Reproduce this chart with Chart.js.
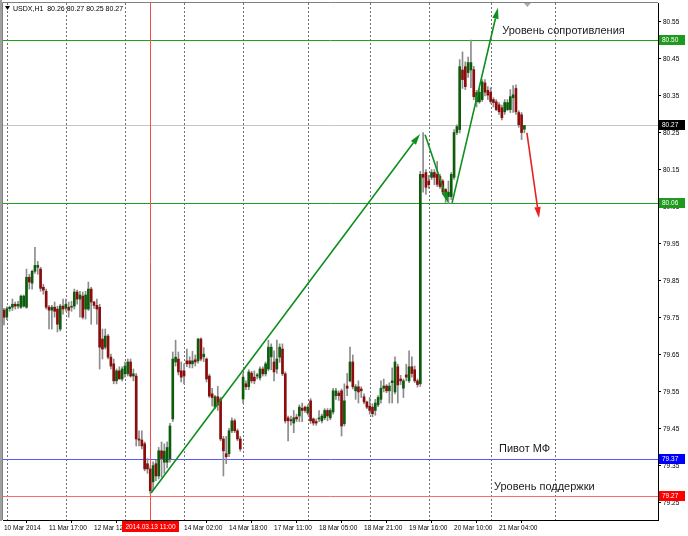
<!DOCTYPE html>
<html>
<head>
<meta charset="utf-8">
<title>USDX,H1</title>
<script src="https://cdn.jsdelivr.net/npm/chart.js@4.4.1/dist/chart.umd.min.js"></script>
<style>
  html, body { margin: 0; padding: 0; background: #fff; }
  canvas { display: block; }
</style>
</head>
<body>
<canvas id="chart" width="688" height="536"></canvas>
<script>
// USDX H1, 10 Mar - 21 Mar 2014, one entry per hourly bar
var symbolName = 'USDX,H1';

var opens = [
  79.771,79.752,79.775,79.779,79.787,79.782,79.779,79.782,79.779,79.860,
  79.844,79.876,79.887,79.882,79.833,79.822,79.779,79.771,79.779,79.774,
  79.720,79.782,79.776,79.779,79.779,79.782,79.820,79.801,79.809,79.774,
  79.774,79.828,79.793,79.784,79.779,79.693,79.671,79.701,79.644,79.626,
  79.580,79.607,79.585,79.599,79.599,79.631,79.593,79.593,79.423,79.420,
  79.410,79.356,79.342,79.307,79.356,79.323,79.391,79.360,79.360,79.369,
  79.477,79.631,79.639,79.607,79.607,79.634,79.634,79.626,79.637,79.634,
  79.693,79.645,79.639,79.593,79.545,79.509,79.537,79.531,79.423,79.383,
  79.383,79.445,79.472,79.445,79.423,79.531,79.572,79.564,79.601,79.590,
  79.593,79.588,79.612,79.599,79.612,79.645,79.631,79.612,79.644,79.666,
  79.599,79.480,79.475,79.466,79.482,79.485,79.506,79.509,79.493,79.526,
  79.477,79.470,79.477,79.472,79.480,79.500,79.480,79.496,79.540,79.547,
  79.553,79.464,79.566,79.580,79.631,79.553,79.564,79.558,79.537,79.523,
  79.512,79.509,79.500,79.515,79.530,79.560,79.566,79.553,79.575,79.550,
  79.618,79.585,79.560,79.596,79.580,79.618,79.610,79.580,79.572,80.138,
  80.143,80.120,80.130,80.143,80.138,80.132,80.120,80.097,80.078,80.078,
  80.130,80.251,80.259,80.420,80.429,80.413,80.420,80.421,80.334,80.334,
  80.340,80.385,80.365,80.360,80.340,80.334,80.326,80.318,80.307,80.313,
  80.313,80.345,80.370,80.305,80.299,80.260
];
var highs = [
  79.776,79.780,79.782,79.801,79.793,79.795,79.812,79.812,79.882,79.868,
  79.879,79.941,79.903,79.887,79.841,79.828,79.784,79.784,79.793,79.782,
  79.787,79.801,79.801,79.793,79.795,79.828,79.825,79.822,79.820,79.822,
  79.847,79.833,79.795,79.801,79.787,79.720,79.720,79.706,79.652,79.639,
  79.612,79.618,79.618,79.631,79.639,79.639,79.612,79.600,79.445,79.445,
  79.415,79.370,79.350,79.361,79.366,79.400,79.415,79.410,79.415,79.465,
  79.658,79.690,79.658,79.631,79.626,79.666,79.645,79.660,79.650,79.695,
  79.696,79.670,79.642,79.598,79.560,79.541,79.565,79.536,79.430,79.430,
  79.452,79.480,79.477,79.450,79.430,79.600,79.580,79.610,79.606,79.607,
  79.600,79.618,79.618,79.631,79.690,79.680,79.661,79.690,79.680,79.680,
  79.604,79.485,79.485,79.500,79.490,79.515,79.520,79.512,79.515,79.532,
  79.480,79.477,79.500,79.490,79.505,79.505,79.505,79.560,79.560,79.553,
  79.558,79.572,79.600,79.671,79.650,79.570,79.580,79.564,79.545,79.525,
  79.535,79.518,79.530,79.540,79.580,79.585,79.570,79.575,79.615,79.645,
  79.625,79.595,79.585,79.625,79.661,79.645,79.620,79.585,80.146,80.251,
  80.151,80.135,80.151,80.151,80.173,80.138,80.124,80.100,80.120,80.143,
  80.259,80.272,80.448,80.469,80.442,80.455,80.501,80.430,80.365,80.370,
  80.394,80.394,80.375,80.372,80.345,80.340,80.332,80.325,80.340,80.340,
  80.367,80.378,80.380,80.310,80.305,80.270
];
var lows = [
  79.731,79.745,79.768,79.770,79.774,79.776,79.776,79.779,79.776,79.828,
  79.828,79.870,79.868,79.822,79.814,79.774,79.720,79.720,79.752,79.712,
  79.715,79.760,79.768,79.752,79.768,79.774,79.787,79.752,79.747,79.747,
  79.770,79.733,79.776,79.733,79.612,79.639,79.666,79.639,79.612,79.572,
  79.572,79.585,79.580,79.590,79.593,79.590,79.580,79.404,79.404,79.396,
  79.337,79.330,79.275,79.285,79.310,79.315,79.320,79.330,79.345,79.360,
  79.470,79.620,79.596,79.577,79.572,79.618,79.615,79.615,79.620,79.628,
  79.634,79.632,79.577,79.535,79.512,79.505,79.500,79.418,79.323,79.356,
  79.375,79.440,79.440,79.418,79.390,79.520,79.556,79.556,79.574,79.572,
  79.585,79.582,79.593,79.593,79.607,79.610,79.580,79.600,79.630,79.594,
  79.466,79.418,79.460,79.440,79.470,79.470,79.470,79.495,79.488,79.465,
  79.460,79.460,79.470,79.466,79.475,79.472,79.475,79.490,79.530,79.527,
  79.431,79.458,79.540,79.577,79.558,79.530,79.520,79.535,79.518,79.505,
  79.490,79.483,79.487,79.510,79.520,79.550,79.548,79.520,79.520,79.545,
  79.520,79.570,79.535,79.580,79.575,79.590,79.575,79.563,79.565,80.090,
  80.084,80.100,80.124,80.110,80.105,80.100,80.085,80.062,80.060,80.070,
  80.124,80.245,80.250,80.370,80.367,80.400,80.372,80.340,80.320,80.330,
  80.335,80.350,80.340,80.330,80.320,80.310,80.300,80.285,80.300,80.310,
  80.305,80.305,80.300,80.265,80.232,80.250
];
var closes = [
  79.752,79.775,79.779,79.787,79.782,79.787,79.809,79.809,79.860,79.847,
  79.876,79.892,79.892,79.830,79.825,79.779,79.771,79.779,79.768,79.733,
  79.782,79.774,79.787,79.771,79.779,79.820,79.801,79.812,79.752,79.812,
  79.828,79.793,79.784,79.774,79.671,79.666,79.701,79.644,79.620,79.580,
  79.607,79.585,79.612,79.620,79.631,79.593,79.599,79.423,79.420,79.404,
  79.342,79.342,79.283,79.351,79.323,79.391,79.370,79.390,79.400,79.458,
  79.639,79.644,79.604,79.590,79.593,79.626,79.626,79.634,79.631,79.693,
  79.639,79.652,79.585,79.539,79.535,79.537,79.515,79.423,79.391,79.375,
  79.445,79.472,79.445,79.423,79.396,79.590,79.564,79.604,79.580,79.580,
  79.596,79.612,79.599,79.626,79.671,79.671,79.604,79.639,79.671,79.599,
  79.472,79.472,79.472,79.480,79.477,79.509,79.500,79.500,79.509,79.472,
  79.466,79.466,79.480,79.485,79.500,79.485,79.500,79.553,79.553,79.540,
  79.458,79.526,79.560,79.631,79.564,79.564,79.550,79.553,79.523,79.509,
  79.500,79.491,79.520,79.535,79.560,79.566,79.553,79.566,79.580,79.631,
  79.569,79.580,79.580,79.590,79.618,79.600,79.580,79.570,80.138,80.130,
  80.103,80.110,80.143,80.130,80.111,80.105,80.090,80.078,80.090,80.138,
  80.251,80.267,80.429,80.394,80.375,80.440,80.440,80.348,80.359,80.360,
  80.388,80.360,80.352,80.335,80.332,80.313,80.307,80.291,80.332,80.332,
  80.348,80.353,80.307,80.272,80.251,80.270
];

// time axis: bar index of each label, and label text
var xTickIdx = [0, 16, 32, 48, 64, 80, 96, 112, 128, 144, 160, 176];
var xTickText = ['10 Mar 2014', '11 Mar 17:00', '12 Mar 12:00', '13 Mar 07:00', '14 Mar 02:00', '14 Mar 18:00',
                 '17 Mar 11:00', '18 Mar 05:00', '18 Mar 21:00', '19 Mar 16:00', '20 Mar 10:00', '21 Mar 04:00'];
var daySeparators = [1, 22, 43, 64, 85, 108, 130, 151, 173, 196];
var barSlots = 232.5;

var yTicks = [79.25, 79.35, 79.45, 79.55, 79.65, 79.75, 79.85, 79.95, 80.05, 80.15, 80.25, 80.35, 80.45, 80.55];
var priceMin = 79.204, priceMax = 80.601;

// crosshair bar 2014.03.13 11:00
var markedBar = 52;
var markedTime = '2014.03.13 11:00';

// levels
var resistanceLevels = [80.50, 80.06];
var pivotLevel = 79.37;
var supportLevel = 79.27;

// arrows as [fromBar, fromPrice, toBar, toPrice]
var trendArrows = [
  [52.3, 79.277, 147.9, 80.247],
  [149.7, 80.245, 157.9, 80.061],
  [159.3, 80.061, 175.6, 80.588]
];
var forecastArrow = [185.9, 80.250, 190.2, 80.020];

var notes = [
  ['Уровень сопротивления', 177.1, 80.526],
  ['Пивот МФ', 176.0, 79.396],
  ['Уровень поддержки', 174.2, 79.293]
];

var FONT = '"Liberation Sans", Arial, sans-serif';
var UP = '#0c5c0c', DOWN = '#8c0c0c', WICK = '#8c8c8c';
var GREEN_LINE = '#1fa01f', GREEN_BOX = '#1f9a1f', ARROW_GREEN = '#0f8f1f';

function last() { return opens.length - 1; }

function drawArrow(ctx, x1, y1, x2, y2, color) {
  var ang = Math.atan2(y2 - y1, x2 - x1);
  var len = 11, half = 3.2;
  var bx = x2 - Math.cos(ang) * len, by = y2 - Math.sin(ang) * len;
  ctx.strokeStyle = color;
  ctx.fillStyle = color;
  ctx.lineWidth = 1.6;
  ctx.beginPath();
  ctx.moveTo(x1, y1);
  ctx.lineTo(bx, by);
  ctx.stroke();
  ctx.beginPath();
  ctx.moveTo(x2, y2);
  ctx.lineTo(bx + Math.sin(ang) * half, by - Math.cos(ang) * half);
  ctx.lineTo(bx - Math.sin(ang) * half, by + Math.cos(ang) * half);
  ctx.closePath();
  ctx.fill();
}

function priceBox(ctx, yPix, text, bg) {
  var top = Math.round(yPix) - 5;
  ctx.fillStyle = bg;
  ctx.fillRect(659, top, 26, 10);
  ctx.fillStyle = '#fff';
  ctx.font = '6.5px ' + FONT;
  ctx.textAlign = 'left';
  ctx.textBaseline = 'middle';
  ctx.fillText(text, 662, top + 5.5);
}

var overlay = {
  id: 'overlay',
  beforeDatasetsDraw: function(chart) {
    var ctx = chart.ctx, a = chart.chartArea, xs = chart.scales.x, ys = chart.scales.y;
    function hline(v, color) {
      var py = Math.round(ys.getPixelForValue(v)) + 0.5;
      ctx.strokeStyle = color;
      ctx.beginPath(); ctx.moveTo(a.left, py); ctx.lineTo(a.right, py); ctx.stroke();
    }
    ctx.save();
    ctx.beginPath(); ctx.rect(a.left, a.top, a.right - a.left, a.bottom - a.top); ctx.clip();
    ctx.lineWidth = 1;

    // period separators
    ctx.strokeStyle = '#707070';
    ctx.setLineDash([2, 2]);
    daySeparators.forEach(function(i) {
      var px = Math.round(xs.getPixelForValue(i)) + 0.5;
      ctx.beginPath(); ctx.moveTo(px, a.top); ctx.lineTo(px, a.bottom); ctx.stroke();
    });
    ctx.setLineDash([]);

    hline(closes[last()], '#c4c4c4');
    resistanceLevels.forEach(function(v) { hline(v, GREEN_LINE); });
    hline(pivotLevel, '#5a5aff');
    hline(supportLevel, '#ff6a6a');

    var mx = Math.round(xs.getPixelForValue(markedBar)) + 0.5;
    ctx.strokeStyle = '#ff4a4a';
    ctx.beginPath(); ctx.moveTo(mx, a.top); ctx.lineTo(mx, a.bottom); ctx.stroke();
    ctx.restore();
  },
  afterDatasetsDraw: function(chart) {
    var ctx = chart.ctx, a = chart.chartArea, xs = chart.scales.x, ys = chart.scales.y;
    ctx.save();
    ctx.beginPath(); ctx.rect(a.left, a.top, a.right - a.left, a.bottom - a.top); ctx.clip();

    trendArrows.forEach(function(t) {
      drawArrow(ctx, xs.getPixelForValue(t[0]), ys.getPixelForValue(t[1]),
                xs.getPixelForValue(t[2]), ys.getPixelForValue(t[3]), ARROW_GREEN);
    });
    var f = forecastArrow;
    drawArrow(ctx, xs.getPixelForValue(f[0]), ys.getPixelForValue(f[1]),
              xs.getPixelForValue(f[2]), ys.getPixelForValue(f[3]), '#e82222');

    ctx.fillStyle = '#1a1a1a';
    ctx.font = '11px ' + FONT;
    ctx.textAlign = 'left';
    ctx.textBaseline = 'middle';
    notes.forEach(function(n) {
      ctx.fillText(n[0], xs.getPixelForValue(n[1]), ys.getPixelForValue(n[2]));
    });

    // symbol header
    var i = last();
    ctx.fillStyle = '#000';
    ctx.beginPath(); ctx.moveTo(5, 6); ctx.lineTo(10, 6); ctx.lineTo(7.5, 10); ctx.closePath(); ctx.fill();
    ctx.font = '7px ' + FONT;
    ctx.fillText(symbolName + '  ' + [opens[i], highs[i], lows[i], closes[i]].map(function(v) { return v.toFixed(2); }).join(' '), 13, 9);

    // chart shift marker
    var sx = xs.getPixelForValue(i) + 3;
    ctx.fillStyle = '#a8a8a8';
    ctx.beginPath(); ctx.moveTo(sx - 3.5, a.top); ctx.lineTo(sx + 3.5, a.top); ctx.lineTo(sx, a.top + 4); ctx.closePath(); ctx.fill();
    ctx.restore();
  },
  afterDraw: function(chart) {
    var ctx = chart.ctx, a = chart.chartArea, xs = chart.scales.x, ys = chart.scales.y;
    ctx.save();
    // window frame and plot border
    ctx.fillStyle = '#a0a0a0';
    ctx.fillRect(0, 0, 2, a.bottom + 1);
    ctx.strokeStyle = '#808080';
    ctx.lineWidth = 1;
    ctx.beginPath();
    ctx.moveTo(2.5, a.bottom); ctx.lineTo(2.5, a.top - 0.5); ctx.lineTo(a.right, a.top - 0.5);
    ctx.stroke();

    priceBox(ctx, ys.getPixelForValue(resistanceLevels[0]), resistanceLevels[0].toFixed(2), GREEN_BOX);
    priceBox(ctx, ys.getPixelForValue(closes[last()]), closes[last()].toFixed(2), '#000');
    priceBox(ctx, ys.getPixelForValue(resistanceLevels[1]), resistanceLevels[1].toFixed(2), GREEN_BOX);
    priceBox(ctx, ys.getPixelForValue(pivotLevel), pivotLevel.toFixed(2), '#0000ff');
    priceBox(ctx, ys.getPixelForValue(supportLevel), supportLevel.toFixed(2), '#ff0000');

    // time box of the crosshair bar
    var mx = Math.round(xs.getPixelForValue(markedBar));
    ctx.fillStyle = '#ff0000';
    ctx.fillRect(mx - 28, a.bottom + 1, 57, 11);
    ctx.fillStyle = '#fff';
    ctx.font = '6.5px ' + FONT;
    ctx.textAlign = 'center';
    ctx.textBaseline = 'middle';
    ctx.fillText(markedTime, mx + 0.5, a.bottom + 7);
    ctx.restore();
  }
};

var wickData = highs.map(function(h, i) { return { x: i, y: [lows[i], h] }; });
var bodyData = opens.map(function(o, i) { return { x: i, y: [o, closes[i]] }; });

function bodyColor(ctx) {
  var i = ctx.dataIndex;
  return closes[i] >= opens[i] ? UP : DOWN;
}

new Chart(document.getElementById('chart'), {
  type: 'bar',
  data: {
    datasets: [
      { data: wickData, backgroundColor: WICK, barThickness: 1, grouped: false, order: 2 },
      { data: bodyData, backgroundColor: bodyColor, barThickness: 2, minBarLength: 1, grouped: false, order: 1 }
    ]
  },
  options: {
    responsive: false,
    animation: false,
    events: [],
    devicePixelRatio: 1,
    layout: { padding: { left: 3, top: 3, right: 0, bottom: 0 } },
    plugins: { legend: { display: false }, tooltip: { enabled: false } },
    scales: {
      x: {
        type: 'linear',
        offset: false,
        min: -0.356,
        max: barSlots,
        afterBuildTicks: function(axis) {
          axis.ticks = xTickIdx.map(function(v) { return { value: v }; });
        },
        afterFit: function(axis) {
          axis.height = 16;
          axis.paddingLeft = 0;
          axis.paddingRight = 0;
        },
        border: { color: '#000' },
        grid: { drawOnChartArea: false, tickLength: 3, color: '#000' },
        ticks: {
          autoSkip: false,
          maxRotation: 0,
          align: 'start',
          padding: 1,
          color: '#000',
          font: { size: 6.5, family: FONT },
          callback: function(v) { return xTickText[xTickIdx.indexOf(v)]; }
        }
      },
      y: {
        position: 'right',
        min: priceMin,
        max: priceMax,
        afterBuildTicks: function(axis) {
          axis.ticks = yTicks.map(function(v) { return { value: v }; });
        },
        afterFit: function(axis) {
          axis.width = 30;
          axis.paddingTop = 0;
          axis.paddingBottom = 0;
        },
        border: { color: '#000' },
        grid: { drawOnChartArea: false, tickLength: 3, color: '#000' },
        ticks: {
          padding: 2,
          color: '#000',
          font: { size: 6.5, family: FONT },
          callback: function(v) { return v.toFixed(2); }
        }
      }
    }
  },
  plugins: [overlay]
});
</script>
</body>
</html>
